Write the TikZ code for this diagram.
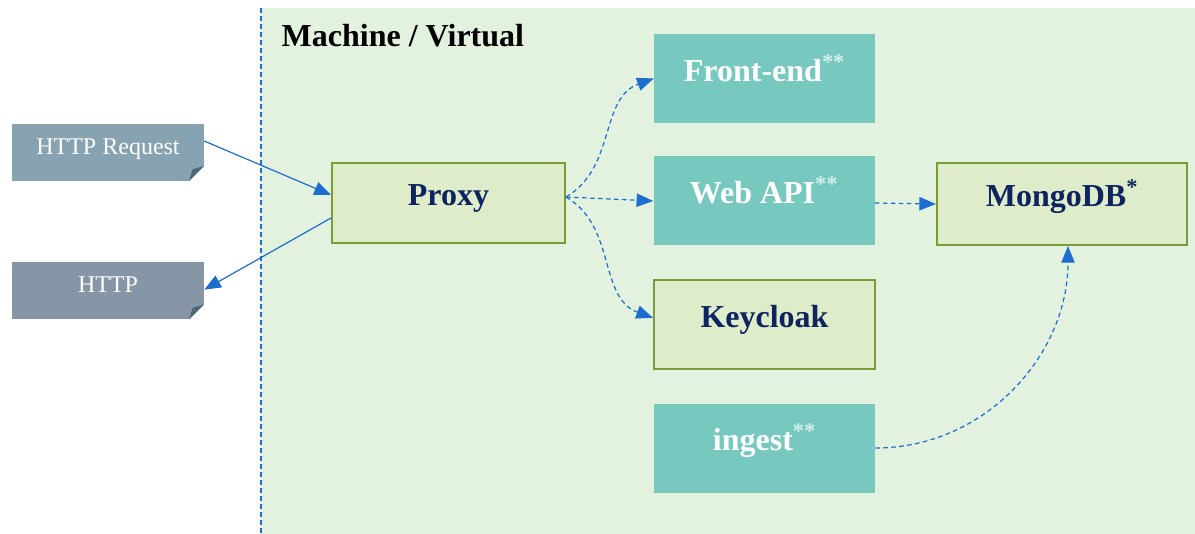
\documentclass[tikz,border=0pt]{standalone}
\usepackage{fontspec}
\setmainfont{Liberation Serif}
\usepackage{xcolor}
\usetikzlibrary{arrows.meta, positioning, calc}

\definecolor{machinebg}{HTML}{E3F2DF}
\definecolor{serviceteal}{HTML}{77C8BF}
\definecolor{storefill}{HTML}{DFECC9}
\definecolor{storeborder}{HTML}{7C9A38}
\definecolor{storetext}{HTML}{0D2460}
\definecolor{reqfill}{HTML}{87A3B1}
\definecolor{respfill}{HTML}{8796A6}
\definecolor{clientfold}{HTML}{4E687A}
\definecolor{linkblue}{HTML}{1C6DCE}
\definecolor{starlight}{HTML}{D3EFEE}

\begin{document}
\begin{tikzpicture}[
        x=0.75pt, y=-0.75pt,
        >={Triangle[length=12.5pt, width=10pt]},
        service/.style={rectangle, fill=serviceteal, text=white, font=\bfseries\fontsize{24}{28}\selectfont, minimum width=165.75pt, minimum height=66.75pt, inner sep=0pt, text height=14pt, text depth=10pt},
        store/.style={rectangle, draw=storeborder, line width=1.5pt, fill=storefill, text=storetext, font=\bfseries\fontsize{24}{28}\selectfont, inner sep=0pt, text height=14pt, text depth=10pt},
        client/.style={rectangle, text=white, font=\fontsize{18}{22}\selectfont, minimum width=144pt, minimum height=42.75pt, inner sep=0pt, text height=11pt, text depth=8pt,
            path picture={
                \fill[white] ([xshift=-11.25pt]path picture bounding box.south east) -- (path picture bounding box.south east) -- ([yshift=11.25pt]path picture bounding box.south east) -- cycle;
                \fill[clientfold] ([xshift=-11.25pt]path picture bounding box.south east) -- ([yshift=11.25pt]path picture bounding box.south east) -- ([xshift=-8.5pt, yshift=8.8pt]path picture bounding box.south east) -- cycle;
            }},
        link/.style={draw=linkblue, line width=0.9pt, ->},
        dashlink/.style={link, dash pattern=on 3.5pt off 2.5pt}
    ]
        \useasboundingbox (0,0) rectangle (1195,534);

        % ================= MACHINE =================
        \node[fill=machinebg, minimum width=700.5pt, minimum height=394.5pt, inner sep=0pt, anchor=north west] (machine) at (261,8) {};
        \draw[linkblue, line width=0.9pt, dash pattern=on 3.5pt off 2.5pt] (machine.north west) -- (machine.south west);
        \node[anchor=base west, font=\bfseries\fontsize{24}{28}\selectfont] (title) at (277,47) {Machine / Virtual};

        % ================= CLIENT =================
        \node[client, fill=reqfill] (httpreq) at (108,152.5) {HTTP Request};
        \node[client, fill=respfill] (httpresp) at (108,291) {HTTP};

        % ================= SERVICES =================
        \node[store, minimum width=174.75pt, minimum height=60pt] (proxy) at (448.5,203) {Proxy};
        \node[service] (frontend) at (764.5,78.5) {Front-end\textsuperscript{\color{starlight}**}};
        \node[service] (webapi) at (764,201) {Web API\textsuperscript{\color{starlight}**}};
        \node[store, minimum width=165.75pt, minimum height=66.75pt] (keycloak) at (764.5,324.5) {Keycloak};
        \node[service] (ingest) at (764.5,448) {ingest\textsuperscript{\color{starlight}**}};
        \node[store, minimum width=187.5pt, minimum height=61.5pt] (mongo) at (1062,204) {MongoDB\textsuperscript{*}};

        % ================= CONNECTIONS =================
        \draw[link] ([yshift=8.6pt]httpreq.east) -- ([yshift=6pt]proxy.west);
        \draw[link] ([yshift=-11.25pt]proxy.west) -- ([yshift=1pt]httpresp.east);

        \coordinate (fan) at ([yshift=4.5pt]proxy.east);
        \draw[dashlink] (fan) to[out=30, in=200] (frontend.west);
        \draw[dashlink] (fan) -- (webapi.west);
        \draw[dashlink] (fan) to[out=-30, in=160] ([yshift=5pt]keycloak.west);
        \draw[dashlink] ([yshift=-1.5pt]webapi.east) -- (mongo.west);
        \draw[dashlink] (ingest.east) to[out=0, in=-90] ([xshift=4.5pt]mongo.south);

    \end{tikzpicture}
\end{document}
